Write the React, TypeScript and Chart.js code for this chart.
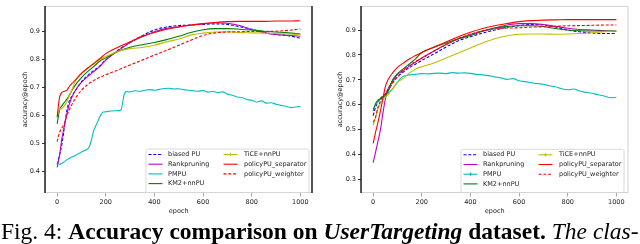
import React, { useEffect, useRef } from "react";
import { Chart, registerables } from "chart.js";

Chart.register(...registerables);

// ---------- data ----------
const EPOCHS = [0, 10, 20, 30, 40, 50, 60, 80, 100, 125, 150, 175, 200, 250, 300, 350, 400, 450, 500, 550, 600, 650, 700, 750, 800, 850, 900, 950, 1000];
const X_TICKS = [0, 200, 400, 600, 800, 1000];
const Y_TICKS_LEFT = [0.4, 0.5, 0.6, 0.7, 0.8, 0.9];
const Y_TICKS_RIGHT = [0.3, 0.4, 0.5, 0.6, 0.7, 0.8, 0.9];
const SERIES_NAMES = ["biased PU", "Rankpruning", "PMPU", "KM2+nnPU", "TiCE+nnPU", "policyPU_separator", "policyPU_weighter"];
const X_TITLE = "epoch";
const Y_TITLE = "accuracy@epoch";

// left panel
const L_BIASED = [0.426, 0.46, 0.5, 0.56, 0.618, 0.652, 0.668, 0.695, 0.72, 0.742, 0.76, 0.776, 0.798, 0.832, 0.86, 0.884, 0.904, 0.915, 0.92, 0.922, 0.924, 0.926, 0.924, 0.916, 0.907, 0.897, 0.888, 0.884, 0.875];
const L_RANK = [0.415, 0.46, 0.52, 0.565, 0.605, 0.64, 0.664, 0.697, 0.718, 0.738, 0.756, 0.774, 0.797, 0.83, 0.86, 0.88, 0.898, 0.91, 0.916, 0.921, 0.926, 0.93, 0.928, 0.92, 0.905, 0.895, 0.888, 0.885, 0.882];
const L_KM2 = [0.57, 0.62, 0.635, 0.647, 0.658, 0.672, 0.688, 0.714, 0.735, 0.756, 0.774, 0.793, 0.805, 0.828, 0.843, 0.852, 0.86, 0.87, 0.882, 0.895, 0.905, 0.909, 0.909, 0.907, 0.904, 0.9, 0.897, 0.894, 0.89];
const L_TICE = [0.599, 0.622, 0.625, 0.635, 0.65, 0.67, 0.69, 0.73, 0.75, 0.768, 0.783, 0.799, 0.81, 0.828, 0.838, 0.842, 0.85, 0.862, 0.872, 0.886, 0.893, 0.897, 0.898, 0.895, 0.894, 0.893, 0.892, 0.89, 0.888];
const L_SEP = [0.593, 0.665, 0.682, 0.686, 0.69, 0.703, 0.713, 0.731, 0.75, 0.768, 0.785, 0.802, 0.82, 0.843, 0.862, 0.882, 0.895, 0.907, 0.915, 0.922, 0.927, 0.931, 0.934, 0.935, 0.935, 0.935, 0.936, 0.936, 0.937];
const L_WEI = [0.507, 0.54, 0.556, 0.572, 0.6, 0.62, 0.638, 0.668, 0.69, 0.71, 0.724, 0.736, 0.745, 0.762, 0.78, 0.797, 0.815, 0.832, 0.85, 0.868, 0.885, 0.894, 0.897, 0.898, 0.899, 0.899, 0.9, 0.903, 0.908];
const L_PMPU_EPOCHS = [0, 10, 20, 40, 60, 80, 100, 120, 130, 135, 140, 150, 160, 170, 180, 190, 200, 220, 240, 260, 265, 270, 275, 280, 285, 300, 320, 340, 360, 380, 400, 420, 440, 460, 480, 500, 520, 540, 560, 580, 600, 620, 640, 660, 680, 700, 720, 740, 760, 780, 800, 820, 840, 860, 880, 900, 920, 940, 960, 980, 1000];
const L_PMPU = [0.432, 0.426, 0.43, 0.442, 0.452, 0.46, 0.47, 0.478, 0.485, 0.495, 0.51, 0.545, 0.565, 0.585, 0.603, 0.612, 0.613, 0.616, 0.617, 0.618, 0.625, 0.65, 0.672, 0.683, 0.685, 0.684, 0.688, 0.686, 0.69, 0.692, 0.69, 0.693, 0.696, 0.697, 0.694, 0.695, 0.692, 0.69, 0.688, 0.686, 0.689, 0.683, 0.686, 0.681, 0.684, 0.676, 0.672, 0.666, 0.664, 0.657, 0.654, 0.648, 0.652, 0.644, 0.645, 0.64, 0.636, 0.633, 0.628, 0.63, 0.632];

// right panel
const R_BIASED = [0.556, 0.59, 0.612, 0.625, 0.635, 0.643, 0.655, 0.688, 0.712, 0.732, 0.75, 0.764, 0.778, 0.804, 0.832, 0.857, 0.873, 0.888, 0.9, 0.911, 0.918, 0.922, 0.92, 0.912, 0.9, 0.893, 0.888, 0.886, 0.886];
const R_RANK = [0.368, 0.41, 0.455, 0.5, 0.565, 0.622, 0.66, 0.695, 0.722, 0.738, 0.756, 0.772, 0.788, 0.816, 0.842, 0.864, 0.882, 0.896, 0.908, 0.92, 0.926, 0.926, 0.922, 0.915, 0.907, 0.902, 0.9, 0.897, 0.895];
const R_KM2 = [0.575, 0.605, 0.618, 0.625, 0.632, 0.638, 0.65, 0.7, 0.725, 0.745, 0.765, 0.785, 0.81, 0.83, 0.848, 0.865, 0.878, 0.895, 0.908, 0.914, 0.917, 0.917, 0.914, 0.906, 0.9, 0.897, 0.896, 0.896, 0.896];
const R_TICE = [0.517, 0.55, 0.585, 0.605, 0.62, 0.63, 0.64, 0.664, 0.69, 0.707, 0.728, 0.744, 0.753, 0.768, 0.788, 0.808, 0.828, 0.848, 0.865, 0.876, 0.883, 0.884, 0.884, 0.883, 0.884, 0.886, 0.889, 0.893, 0.896];
const R_SEP = [0.445, 0.49, 0.53, 0.575, 0.625, 0.672, 0.698, 0.728, 0.75, 0.768, 0.785, 0.798, 0.81, 0.832, 0.852, 0.873, 0.891, 0.906, 0.917, 0.926, 0.934, 0.938, 0.94, 0.941, 0.942, 0.942, 0.942, 0.942, 0.942];
const R_WEI = [0.53, 0.55, 0.59, 0.615, 0.635, 0.645, 0.66, 0.69, 0.712, 0.74, 0.76, 0.775, 0.787, 0.815, 0.842, 0.866, 0.883, 0.897, 0.905, 0.908, 0.909, 0.912, 0.913, 0.915, 0.917, 0.918, 0.919, 0.92, 0.92];
const R_PMPU_EPOCHS = [0, 10, 20, 30, 40, 50, 60, 70, 80, 90, 100, 110, 120, 130, 140, 150, 175, 200, 225, 250, 275, 300, 325, 350, 375, 400, 425, 450, 475, 500, 525, 550, 575, 600, 625, 650, 675, 700, 725, 750, 775, 800, 825, 850, 875, 900, 925, 950, 975, 1000];
const R_PMPU = [0.582, 0.6, 0.612, 0.622, 0.628, 0.636, 0.645, 0.655, 0.664, 0.678, 0.69, 0.703, 0.712, 0.716, 0.718, 0.72, 0.722, 0.725, 0.724, 0.726, 0.727, 0.725, 0.729, 0.727, 0.728, 0.726, 0.722, 0.72, 0.717, 0.712, 0.708, 0.702, 0.705, 0.696, 0.693, 0.689, 0.685, 0.682, 0.676, 0.672, 0.664, 0.66, 0.663, 0.655, 0.65, 0.646, 0.64, 0.635, 0.628, 0.63];

// ---------- styles ----------
const COLORS = ["#0000ff", "#bf00bf", "#00bfbf", "#008000", "#bfbf00", "#ff0000", "#ff0000"];
const DASHED = [true, false, false, false, false, false, true];
const FONT = "'DejaVu Sans', sans-serif";
const FS = 6.5;

type Panel = {
  series: { x: number[]; y: number[] }[];
  yMin: number;
  yMax: number;
  yTicks: number[];
  yAxisWidth: number;
  padRight: number;
  yTitlePad: number;
  legend: { x: number; y: number; w: number; h: number };
  plusMarkers: boolean[];
  darkRight: boolean;
};

const framePlugin = {
  id: "frameLegend",
  afterDatasetsDraw(chart: any, _args: any, opts: any) {
    const { ctx, chartArea: a } = chart;
    ctx.save();
    ctx.strokeStyle = "#d2d2d2";
    ctx.lineWidth = 1;
    ctx.strokeRect(a.left + 0.5, a.top + 0.5, a.right - a.left - 1, a.bottom - a.top - 1);
    ctx.strokeStyle = "#151515";
    ctx.lineWidth = 1.4;
    ctx.beginPath();
    ctx.moveTo(a.left, a.top);
    ctx.lineTo(a.left, a.bottom);
    if (opts.darkRight) {
      ctx.moveTo(a.right - 0.5, a.top);
      ctx.lineTo(a.right - 0.5, a.bottom);
    }
    ctx.stroke();

    // legend
    const L = opts.legend;
    ctx.fillStyle = "rgba(255,255,255,0.85)";
    ctx.strokeStyle = "#d0d0d0";
    ctx.lineWidth = 0.8;
    ctx.beginPath();
    const r = 1.5;
    ctx.moveTo(L.x + r, L.y);
    ctx.arcTo(L.x + L.w, L.y, L.x + L.w, L.y + L.h, r);
    ctx.arcTo(L.x + L.w, L.y + L.h, L.x, L.y + L.h, r);
    ctx.arcTo(L.x, L.y + L.h, L.x, L.y, r);
    ctx.arcTo(L.x, L.y, L.x + L.w, L.y, r);
    ctx.closePath();
    ctx.fill();
    ctx.stroke();

    ctx.font = `${FS}px ${FONT}`;
    ctx.textBaseline = "middle";
    ctx.textAlign = "left";
    chart.data.datasets.forEach((ds: any, i: number) => {
      const col = i < 4 ? 0 : 1;
      const row = i < 4 ? i : i - 4;
      const sx = L.x + (col === 0 ? 2.5 : 77.5);
      const tx = L.x + (col === 0 ? 22 : 98);
      const y = L.y + 5.5 + row * 9.7;
      ctx.strokeStyle = ds.borderColor;
      ctx.lineWidth = 1.1;
      ctx.setLineDash(ds.borderDash || []);
      ctx.beginPath();
      ctx.moveTo(sx, y);
      ctx.lineTo(sx + 14, y);
      ctx.stroke();
      ctx.setLineDash([]);
      if (opts.plusMarkers[i]) {
        const cx = sx + 7;
        ctx.lineWidth = 0.8;
        ctx.beginPath();
        ctx.moveTo(cx - 1.8, y);
        ctx.lineTo(cx + 1.8, y);
        ctx.moveTo(cx, y - 1.8);
        ctx.lineTo(cx, y + 1.8);
        ctx.stroke();
      }
      ctx.fillStyle = "#222";
      ctx.fillText(ds.label, tx, y);
    });
    ctx.restore();
  },
};

function buildChart(canvas: HTMLCanvasElement, p: Panel) {
  const datasets = p.series.map((s, i) => ({
    label: SERIES_NAMES[i],
    data: s.x.map((e, j) => ({ x: e, y: s.y[j] })),
    borderColor: COLORS[i],
    backgroundColor: COLORS[i],
    borderWidth: 1.1,
    borderDash: DASHED[i] ? [3, 1.8] : [],
    pointRadius: 0,
    fill: false,
    cubicInterpolationMode: "monotone" as const,
    order: -i,
  }));
  return new Chart(canvas, {
    type: "line",
    data: { datasets },
    plugins: [framePlugin],
    options: {
      responsive: false,
      animation: false,
      devicePixelRatio: 1,
      layout: { padding: { left: 0, top: 0, right: p.padRight, bottom: 0 } },
      plugins: {
        legend: { display: false },
        tooltip: { enabled: false },
        frameLegend: { legend: p.legend, plusMarkers: p.plusMarkers, darkRight: p.darkRight },
      } as any,
      scales: {
        x: {
          type: "linear",
          min: -50,
          max: 1050,
          afterBuildTicks: (s: any) => {
            s.ticks = X_TICKS.map((v) => ({ value: v }));
          },
          afterFit: (s: any) => {
            s.height = 27;
          },
          border: { display: false },
          grid: { display: true, drawOnChartArea: false, drawTicks: true, tickLength: 3.5, color: "#aaaaaa" },
          ticks: {
            padding: 2,
            color: "#222",
            font: { family: FONT, size: FS },
            maxRotation: 0,
            autoSkip: false,
            callback: (v: any) => String(v),
          },
          title: { display: true, text: X_TITLE, color: "#222", font: { family: FONT, size: FS }, padding: { top: 0, bottom: 4.4 } },
        },
        y: {
          type: "linear",
          min: p.yMin,
          max: p.yMax,
          afterBuildTicks: (s: any) => {
            s.ticks = p.yTicks.map((v) => ({ value: v }));
          },
          afterFit: (s: any) => {
            s.width = p.yAxisWidth;
          },
          border: { display: false },
          grid: { display: true, drawOnChartArea: false, drawTicks: true, tickLength: 3, color: "#333" },
          ticks: {
            padding: 2,
            color: "#222",
            font: { family: FONT, size: FS },
            autoSkip: false,
            callback: (v: any) => Number(v).toFixed(1),
          },
          title: { display: true, text: Y_TITLE, color: "#222", font: { family: FONT, size: FS }, padding: { top: p.yTitlePad, bottom: 0 } },
        },
      },
    },
  });
}

const LEFT: Panel = {
  series: [
    { x: EPOCHS, y: L_BIASED },
    { x: EPOCHS, y: L_RANK },
    { x: L_PMPU_EPOCHS, y: L_PMPU },
    { x: EPOCHS, y: L_KM2 },
    { x: EPOCHS, y: L_TICE },
    { x: EPOCHS, y: L_SEP },
    { x: EPOCHS, y: L_WEI },
  ],
  yMin: 0.324,
  yMax: 0.99,
  yTicks: Y_TICKS_LEFT,
  yAxisWidth: 45,
  padRight: 7.5,
  yTitlePad: 21,
  legend: { x: 146, y: 149, w: 163, h: 43.5 },
  plusMarkers: [false, false, false, false, true, false, false],
  darkRight: true,
};

const RIGHT: Panel = {
  series: [
    { x: EPOCHS, y: R_BIASED },
    { x: EPOCHS, y: R_RANK },
    { x: R_PMPU_EPOCHS, y: R_PMPU },
    { x: EPOCHS, y: R_KM2 },
    { x: EPOCHS, y: R_TICE },
    { x: EPOCHS, y: R_SEP },
    { x: EPOCHS, y: R_WEI },
  ],
  yMin: 0.2455,
  yMax: 0.997,
  yTicks: Y_TICKS_RIGHT,
  yAxisWidth: 41,
  padRight: 11.5,
  yTitlePad: 16,
  legend: { x: 141, y: 149.3, w: 163, h: 43.2 },
  plusMarkers: [false, false, true, false, true, false, false],
  darkRight: false,
};

function ChartPanel({ panel, left }: { panel: Panel; left: number }) {
  const ref = useRef<HTMLCanvasElement | null>(null);
  useEffect(() => {
    if (!ref.current) return;
    const c = buildChart(ref.current, panel);
    return () => c.destroy();
  }, [panel]);
  return (
    <div style={{ position: "absolute", left, top: 0, width: 320, height: 220 }}>
      <canvas ref={ref} width={320} height={220} style={{ width: 320, height: 220, display: "block" }} />
    </div>
  );
}

export default function App() {
  return (
    <div style={{ position: "fixed", left: 0, top: 0, width: 640, height: 244, overflow: "hidden", background: "#fff" }}>
      <ChartPanel panel={LEFT} left={0} />
      <ChartPanel panel={RIGHT} left={320} />
      <div
        style={{
          position: "absolute",
          left: 1,
          top: 220,
          fontFamily: "'Liberation Serif', 'Times New Roman', serif",
          fontSize: 23.5,
          lineHeight: 1,
          whiteSpace: "nowrap",
          color: "#000",
        }}
      >
        Fig. 4: <b>Accuracy comparison on <i>UserTargeting</i> dataset.</b> <i>The clas-</i>
      </div>
    </div>
  );
}
